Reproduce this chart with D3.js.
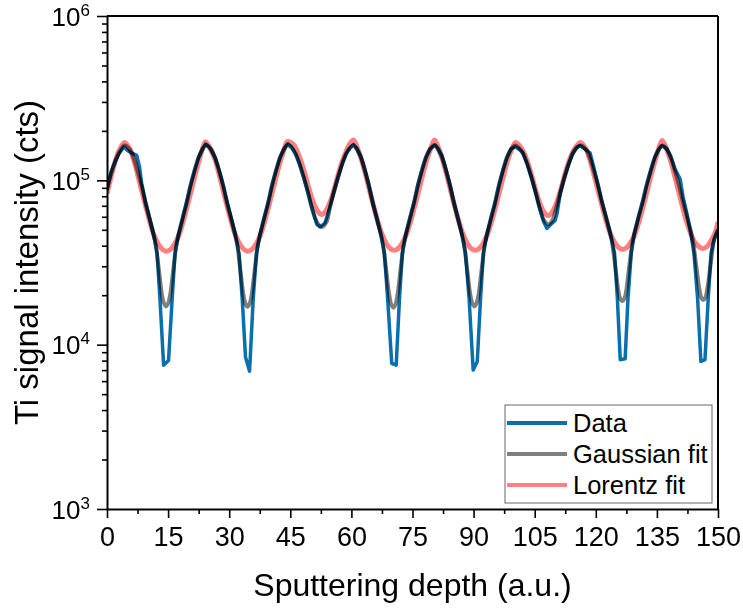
<!DOCTYPE html>
<html>
<head>
<meta charset="utf-8">
<script src="https://cdn.jsdelivr.net/npm/d3@7"></script>
<style>
    body { margin: 0; background: #fff; }
    svg { display: block; font-family: "Liberation Sans", Arial, sans-serif; }
</style>
</head>
<body>
<svg id="chart"></svg>
<script>
// measured data, [depth, counts]
const dataPoints = [
    [0, 8.7e4], [1, 1.12e5], [2, 1.3e5], [3, 1.46e5], [4.2, 1.6e5], [5, 1.52e5], [6, 1.47e5], [7.3, 1.42e5],
    [8, 1.2e5], [8.5, 9.6e4], [9.5, 7.3e4], [10.5, 5.8e4], [11.5, 4.6e4], [12.3, 3.6e4], [13, 1.9e4], [13.9, 7.5e3],
    [15.1, 8.0e3], [16, 1.9e4], [16.7, 3.6e4], [17.5, 4.6e4], [18.5, 5.8e4], [19.5, 7.3e4], [20.5, 9.3e4],
    [21.5, 1.15e5], [22.5, 1.38e5], [23.5, 1.56e5], [24.2, 1.66e5], [25.3, 1.57e5], [26.5, 1.38e5], [27.5, 1.16e5],
    [28.5, 9.4e4], [29.5, 7.4e4], [30.5, 5.9e4], [31.5, 4.7e4], [32.4, 3.6e4], [33.2, 1.9e4], [34, 8.4e3],
    [35, 6.9e3], [35.9, 1.9e4], [36.7, 3.6e4], [37.5, 4.6e4], [38.5, 5.8e4], [39.5, 7.2e4], [40.5, 9.3e4],
    [41.5, 1.15e5], [42.5, 1.38e5], [43.5, 1.56e5], [44.4, 1.67e5], [45.3, 1.6e5], [46.3, 1.45e5], [47.3, 1.25e5],
    [48.3, 1.04e5], [49.3, 8.5e4], [50.3, 6.8e4], [51.5, 5.4e4], [52.3, 5.2e4], [53.5, 5.5e4], [54.7, 6.8e4],
    [55.7, 8.5e4], [56.7, 1.04e5], [57.7, 1.25e5], [58.7, 1.45e5], [59.7, 1.58e5], [60.5, 1.65e5], [61.3, 1.57e5],
    [62.3, 1.4e5], [63.3, 1.16e5], [64.3, 9.3e4], [65.3, 7.2e4], [66.3, 5.8e4], [67.3, 4.6e4], [68.1, 3.6e4],
    [68.9, 1.9e4], [69.9, 7.7e3], [71, 7.5e3], [71.8, 1.9e4], [72.5, 3.6e4], [73.3, 4.6e4], [74.3, 5.8e4],
    [75.3, 7.2e4], [76.3, 9.3e4], [77.3, 1.15e5], [78.3, 1.38e5], [79.3, 1.55e5], [80.5, 1.64e5], [81.3, 1.56e5],
    [82.2, 1.42e5], [83.2, 1.17e5], [84.2, 9.4e4], [85.2, 7.3e4], [86.2, 5.8e4], [87.2, 4.6e4], [88, 3.6e4],
    [88.9, 1.9e4], [89.9, 7.0e3], [90.9, 7.9e3], [91.7, 1.9e4], [92.4, 3.6e4], [93.2, 4.6e4], [94.2, 5.8e4],
    [95.2, 7.2e4], [96.2, 9.3e4], [97.2, 1.15e5], [98.2, 1.38e5], [99.2, 1.55e5], [100.2, 1.6e5], [101, 1.56e5],
    [102, 1.48e5], [103.2, 1.25e5], [104.2, 1.04e5], [105.2, 8.5e4], [106.2, 6.8e4], [107.2, 5.6e4], [108, 5.1e4],
    [109, 5.4e4], [110, 5.7e4], [110.5, 6.3e4], [111.3, 8.4e4], [112.3, 1.04e5], [113.3, 1.25e5], [114.3, 1.45e5],
    [115.3, 1.58e5], [116.1, 1.63e5], [117, 1.57e5], [118.6, 1.47e5], [119.5, 1.2e5], [120.5, 9.5e4],
    [121.5, 7.4e4], [122.5, 6.0e4], [123.5, 4.8e4], [124.6, 3.6e4], [125.3, 1.9e4], [126, 8.1e3], [127.2, 8.2e3],
    [127.9, 1.9e4], [128.7, 3.6e4], [129.5, 4.8e4], [130.5, 6.0e4], [131.5, 7.4e4], [132.5, 9.4e4], [133.5, 1.15e5],
    [134.5, 1.38e5], [135.5, 1.55e5], [136.2, 1.62e5], [137.3, 1.57e5], [138.4, 1.4e5], [139.4, 1.18e5],
    [140.7, 1.02e5], [141.4, 8.0e4], [142.4, 6.2e4], [143.3, 4.8e4], [144.1, 3.6e4], [145, 1.9e4], [145.8, 7.9e3],
    [146.8, 8.1e3], [147.6, 1.9e4], [148.3, 3.6e4], [149.1, 4.4e4], [150, 5.0e4]
];

const gaussPoints = [
    [0, 9.0e4], [1, 1.1e5], [2, 1.3e5], [3, 1.48e5], [4.3, 1.63e5], [5.5, 1.55e5], [6.5, 1.38e5], [7.5, 1.15e5],
    [8.5, 9.3e4], [9.5, 7.2e4], [10.5, 5.8e4], [11.5, 4.6e4], [12, 4.0e4], [12.5, 3.2e4], [13, 2.5e4], [13.5, 2.0e4],
    [14, 1.78e4], [14.5, 1.71e4], [15, 1.78e4], [15.5, 2.0e4], [16, 2.5e4], [16.5, 3.2e4], [17, 4.0e4], [17.5, 4.6e4],
    [18.5, 5.8e4], [19.5, 7.2e4], [20.5, 9.3e4], [21.5, 1.15e5], [22.5, 1.38e5], [23.5, 1.55e5], [24.3, 1.64e5],
    [25.5, 1.55e5], [26.5, 1.38e5], [27.5, 1.15e5], [28.5, 9.3e4], [29.5, 7.2e4], [30.5, 5.8e4], [31.5, 4.6e4],
    [32, 4.0e4], [32.5, 3.2e4], [33, 2.5e4], [33.5, 2.0e4], [34, 1.77e4], [34.5, 1.70e4], [35, 1.77e4], [35.5, 2.0e4],
    [36, 2.5e4], [36.5, 3.2e4], [37, 4.0e4], [37.5, 4.6e4], [38.5, 5.8e4], [39.5, 7.2e4], [40.5, 9.3e4],
    [41.5, 1.15e5], [42.5, 1.38e5], [43.5, 1.55e5], [44.3, 1.64e5], [45.3, 1.58e5], [46.3, 1.45e5], [47.3, 1.25e5],
    [48.3, 1.04e5], [49.3, 8.5e4], [50.3, 6.8e4], [51.5, 5.6e4], [52.7, 5.2e4], [53.9, 5.6e4], [54.7, 6.8e4],
    [55.7, 8.5e4], [56.7, 1.04e5], [57.7, 1.25e5], [58.7, 1.45e5], [59.7, 1.58e5], [60.5, 1.63e5], [61.3, 1.55e5],
    [62.3, 1.38e5], [63.3, 1.15e5], [64.3, 9.3e4], [65.3, 7.2e4], [66.3, 5.8e4], [67.3, 4.6e4], [67.8, 4.0e4],
    [68.3, 3.2e4], [68.8, 2.5e4], [69.3, 2.0e4], [69.8, 1.75e4], [70.3, 1.68e4], [70.8, 1.75e4], [71.3, 2.0e4],
    [71.8, 2.5e4], [72.3, 3.2e4], [72.8, 4.0e4], [73.3, 4.6e4], [74.3, 5.8e4], [75.3, 7.2e4], [76.3, 9.3e4],
    [77.3, 1.15e5], [78.3, 1.38e5], [79.3, 1.55e5], [80.4, 1.64e5], [81.2, 1.55e5], [82.2, 1.38e5], [83.2, 1.15e5],
    [84.2, 9.3e4], [85.2, 7.2e4], [86.2, 5.8e4], [87.2, 4.6e4], [87.7, 4.0e4], [88.2, 3.2e4], [88.7, 2.5e4],
    [89.2, 2.0e4], [89.7, 1.78e4], [90.2, 1.71e4], [90.7, 1.78e4], [91.2, 2.0e4], [91.7, 2.5e4], [92.2, 3.2e4],
    [92.7, 4.0e4], [93.2, 4.6e4], [94.2, 5.8e4], [95.2, 7.2e4], [96.2, 9.3e4], [97.2, 1.15e5], [98.2, 1.38e5],
    [99.2, 1.55e5], [100.2, 1.63e5], [101.2, 1.57e5], [102.2, 1.45e5], [103.2, 1.25e5], [104.2, 1.04e5],
    [105.2, 8.5e4], [106.2, 6.8e4], [107.3, 5.7e4], [108.3, 5.4e4], [109.3, 5.7e4], [110.3, 6.8e4], [111.3, 8.5e4],
    [112.3, 1.04e5], [113.3, 1.25e5], [114.3, 1.45e5], [115.3, 1.58e5], [116.2, 1.63e5], [117.5, 1.55e5],
    [118.5, 1.38e5], [119.5, 1.15e5], [120.5, 9.4e4], [121.5, 7.4e4], [122.5, 6.0e4], [123.5, 4.8e4], [124, 4.2e4],
    [124.5, 3.4e4], [125, 2.7e4], [125.5, 2.15e4], [126, 1.9e4], [126.5, 1.84e4], [127, 1.9e4], [127.5, 2.15e4],
    [128, 2.7e4], [128.5, 3.4e4], [129, 4.2e4], [129.5, 4.8e4], [130.5, 6.0e4], [131.5, 7.4e4], [132.5, 9.4e4],
    [133.5, 1.15e5], [134.5, 1.38e5], [135.5, 1.55e5], [136.3, 1.63e5], [137.4, 1.55e5], [138.4, 1.38e5],
    [139.4, 1.15e5], [140.4, 9.4e4], [141.4, 7.4e4], [142.4, 6.0e4], [143.4, 4.8e4], [143.9, 4.2e4], [144.4, 3.4e4],
    [144.9, 2.7e4], [145.4, 2.2e4], [145.9, 1.93e4], [146.4, 1.87e4], [146.9, 1.93e4], [147.4, 2.2e4],
    [147.9, 2.7e4], [148.4, 3.4e4], [148.9, 4.2e4], [149.4, 4.6e4], [150, 5.0e4]
];

const lorentzPoints = [
    [0, 8.3e4], [1, 1.05e5], [2, 1.3e5], [3, 1.52e5], [4.3, 1.70e5], [5.6, 1.55e5], [6.6, 1.32e5], [7.6, 1.07e5],
    [8.6, 8.5e4], [9.6, 6.8e4], [10.6, 5.5e4], [11.6, 4.6e4], [12.6, 4.1e4], [13.6, 3.8e4], [14.6, 3.7e4],
    [15.6, 3.8e4], [16.6, 4.1e4], [17.6, 4.6e4], [18.6, 5.5e4], [19.6, 6.8e4], [20.6, 8.5e4], [21.6, 1.07e5],
    [22.6, 1.32e5], [23.4, 1.55e5], [24.2, 1.72e5], [25.4, 1.55e5], [26.6, 1.32e5], [27.6, 1.07e5], [28.6, 8.5e4],
    [29.6, 6.8e4], [30.6, 5.5e4], [31.6, 4.6e4], [32.6, 4.1e4], [33.6, 3.8e4], [34.6, 3.7e4], [35.6, 3.8e4],
    [36.6, 4.1e4], [37.6, 4.6e4], [38.6, 5.5e4], [39.6, 6.8e4], [40.6, 8.5e4], [41.6, 1.07e5], [42.6, 1.32e5],
    [43.5, 1.55e5], [44.3, 1.72e5], [45.7, 1.66e5], [46.7, 1.5e5], [47.7, 1.29e5], [48.7, 1.07e5], [49.7, 8.7e4],
    [50.7, 7.3e4], [51.7, 6.5e4], [52.7, 6.2e4], [53.7, 6.5e4], [54.7, 7.3e4], [55.7, 8.7e4], [56.7, 1.07e5],
    [57.7, 1.29e5], [58.7, 1.5e5], [59.7, 1.68e5], [60.5, 1.76e5], [61.5, 1.57e5], [62.5, 1.33e5], [63.5, 1.08e5],
    [64.5, 8.6e4], [65.5, 6.9e4], [66.5, 5.6e4], [67.5, 4.7e4], [68.5, 4.15e4], [69.5, 3.85e4], [70.5, 3.76e4],
    [71.5, 3.85e4], [72.5, 4.15e4], [73.5, 4.7e4], [74.5, 5.6e4], [75.5, 6.9e4], [76.5, 8.6e4], [77.5, 1.08e5],
    [78.5, 1.33e5], [79.5, 1.57e5], [80.4, 1.76e5], [81.4, 1.57e5], [82.4, 1.33e5], [83.4, 1.08e5], [84.4, 8.6e4],
    [85.4, 6.9e4], [86.4, 5.6e4], [87.4, 4.7e4], [88.4, 4.15e4], [89.4, 3.85e4], [90.4, 3.76e4], [91.4, 3.85e4],
    [92.4, 4.15e4], [93.4, 4.7e4], [94.4, 5.6e4], [95.4, 6.9e4], [96.4, 8.6e4], [97.4, 1.08e5], [98.4, 1.33e5],
    [99.4, 1.55e5], [100.3, 1.70e5], [101.3, 1.62e5], [102.3, 1.48e5], [103.3, 1.28e5], [104.3, 1.06e5],
    [105.3, 8.6e4], [106.3, 7.2e4], [107.3, 6.4e4], [108.3, 6.1e4], [109.3, 6.4e4], [110.3, 7.2e4], [111.3, 8.6e4],
    [112.3, 1.06e5], [113.3, 1.28e5], [114.3, 1.48e5], [115.3, 1.62e5], [116.2, 1.70e5], [117.6, 1.55e5],
    [118.6, 1.32e5], [119.6, 1.07e5], [120.6, 8.6e4], [121.6, 6.9e4], [122.6, 5.6e4], [123.6, 4.7e4],
    [124.6, 4.2e4], [125.6, 3.9e4], [126.6, 3.8e4], [127.6, 3.9e4], [128.6, 4.2e4], [129.6, 4.7e4], [130.6, 5.6e4],
    [131.6, 6.9e4], [132.6, 8.6e4], [133.6, 1.08e5], [134.6, 1.33e5], [135.5, 1.57e5], [136.3, 1.75e5],
    [137.3, 1.57e5], [138.3, 1.33e5], [139.3, 1.08e5], [140.3, 8.6e4], [141.3, 6.9e4], [142.3, 5.6e4],
    [143.3, 4.75e4], [144.3, 4.2e4], [145.3, 3.95e4], [146.3, 3.85e4], [147.3, 3.95e4], [148.3, 4.3e4],
    [149.3, 4.8e4], [150, 5.6e4]
];

const xTicks = [0, 15, 30, 45, 60, 75, 90, 105, 120, 135, 150];
const xMinorTicks = [7.5, 22.5, 37.5, 52.5, 67.5, 82.5, 97.5, 112.5, 127.5, 142.5];
const yTicks = [1e3, 1e4, 1e5, 1e6];
const yMinorTicks = [];
[1e3, 1e4, 1e5].forEach(dec => {
    for (let m = 2; m <= 9; m++) yMinorTicks.push(m * dec);
});

const seriesNames = ["Data", "Gaussian fit", "Lorentz fit"];
const seriesColors = ["#0a6fae", "#7f7f7f", "#ff8080"];
const seriesWidths = [3.5, 4, 5];

const width = 743;
const height = 609;
const margin = { left: 107, right: 25, top: 16, bottom: 100 };

const svg = d3.select("#chart").attr("width", width).attr("height", height);

const x = d3.scaleLinear().domain([0, 150]).range([margin.left, width - margin.right]);
const y = d3.scaleLog().domain([1e3, 1e6]).range([height - margin.bottom, margin.top]);

// clip to the plot area
svg.append("clipPath").attr("id", "plot-clip")
    .append("rect")
    .attr("x", x(0)).attr("y", y(1e6))
    .attr("width", x(150) - x(0)).attr("height", y(1e3) - y(1e6));

const plot = svg.append("g").attr("clip-path", "url(#plot-clip)").style("isolation", "isolate");

const line = d3.line().x(d => x(d[0])).y(d => y(d[1]));
const smoothLine = d3.line().x(d => x(d[0])).y(d => y(d[1])).curve(d3.curveCatmullRom);

const series = [
    { pts: dataPoints, gen: line },
    { pts: gaussPoints, gen: smoothLine },
    { pts: lorentzPoints, gen: smoothLine }
];

series.forEach((s, i) => {
    plot.append("path")
        .attr("d", s.gen(s.pts))
        .attr("fill", "none")
        .attr("stroke", seriesColors[i])
        .attr("stroke-width", seriesWidths[i])
        .attr("stroke-linejoin", "round")
        .style("mix-blend-mode", "multiply");
});

// frame (top and right)
svg.append("line")
    .attr("x1", x(0)).attr("x2", x(150)).attr("y1", y(1e6)).attr("y2", y(1e6))
    .attr("stroke", "#000").attr("stroke-width", 2);
svg.append("line")
    .attr("x1", x(150)).attr("x2", x(150)).attr("y1", y(1e6)).attr("y2", y(1e3))
    .attr("stroke", "#000").attr("stroke-width", 2);

// x axis
const xAxis = svg.append("g")
    .attr("transform", `translate(0,${y(1e3)})`)
    .call(d3.axisBottom(x).tickValues(xTicks).tickSize(9).tickSizeOuter(0).tickPadding(9).tickFormat(d3.format("d")));
svg.append("g")
    .attr("transform", `translate(0,${y(1e3)})`)
    .call(d3.axisBottom(x).tickValues(xMinorTicks).tickSize(5).tickSizeOuter(0).tickFormat(""))
    .call(g => g.select(".domain").remove());

// y axis
const yAxis = svg.append("g")
    .attr("transform", `translate(${x(0)},0)`)
    .call(d3.axisLeft(y).tickValues(yTicks).tickSize(10).tickSizeOuter(0).tickFormat(""));
svg.append("g")
    .attr("transform", `translate(${x(0)},0)`)
    .call(d3.axisLeft(y).tickValues(yMinorTicks).tickSize(5).tickSizeOuter(0).tickFormat(""))
    .call(g => g.select(".domain").remove());

svg.selectAll(".domain").attr("stroke", "#000").attr("stroke-width", 2);
svg.selectAll(".tick line").attr("stroke", "#000").attr("stroke-width", 1.6);

xAxis.selectAll(".tick text")
    .attr("fill", "#000")
    .attr("font-size", "27px")
    .attr("font-family", "Liberation Sans, Arial, sans-serif");

// y tick labels: 10 with superscript exponent
yAxis.selectAll(".tick").each(function (d) {
    const exp = Math.round(Math.log10(d));
    const t = d3.select(this).append("text")
        .attr("x", -17)
        .attr("y", 9)
        .attr("text-anchor", "end")
        .attr("fill", "#000")
        .attr("font-family", "Liberation Sans, Arial, sans-serif");
    t.append("tspan").attr("font-size", "26px").text("10");
    t.append("tspan").attr("font-size", "17px").attr("dy", -10).text(exp);
});

// axis titles
svg.append("text")
    .attr("x", (x(0) + x(150)) / 2)
    .attr("y", 596)
    .attr("text-anchor", "middle")
    .attr("font-size", "32px")
    .text("Sputtering depth (a.u.)");

svg.append("text")
    .attr("transform", `translate(38,${(y(1e3) + y(1e6)) / 2}) rotate(-90)`)
    .attr("text-anchor", "middle")
    .attr("font-size", "33px")
    .text("Ti signal intensity (cts)");

// legend
const legend = svg.append("g");
legend.append("rect")
    .attr("x", 505).attr("y", 405)
    .attr("width", 207).attr("height", 98)
    .attr("fill", "#fff")
    .attr("stroke", "#666")
    .attr("stroke-width", 1);

seriesNames.forEach((name, i) => {
    const ly = 423 + i * 31;
    legend.append("line")
        .attr("x1", 507).attr("x2", 567)
        .attr("y1", ly).attr("y2", ly)
        .attr("stroke", seriesColors[i])
        .attr("stroke-width", 4);
    legend.append("text")
        .attr("x", 573).attr("y", ly + 9)
        .attr("font-size", "25.5px")
        .attr("fill", "#000")
        .text(name);
});
</script>
</body>
</html>
